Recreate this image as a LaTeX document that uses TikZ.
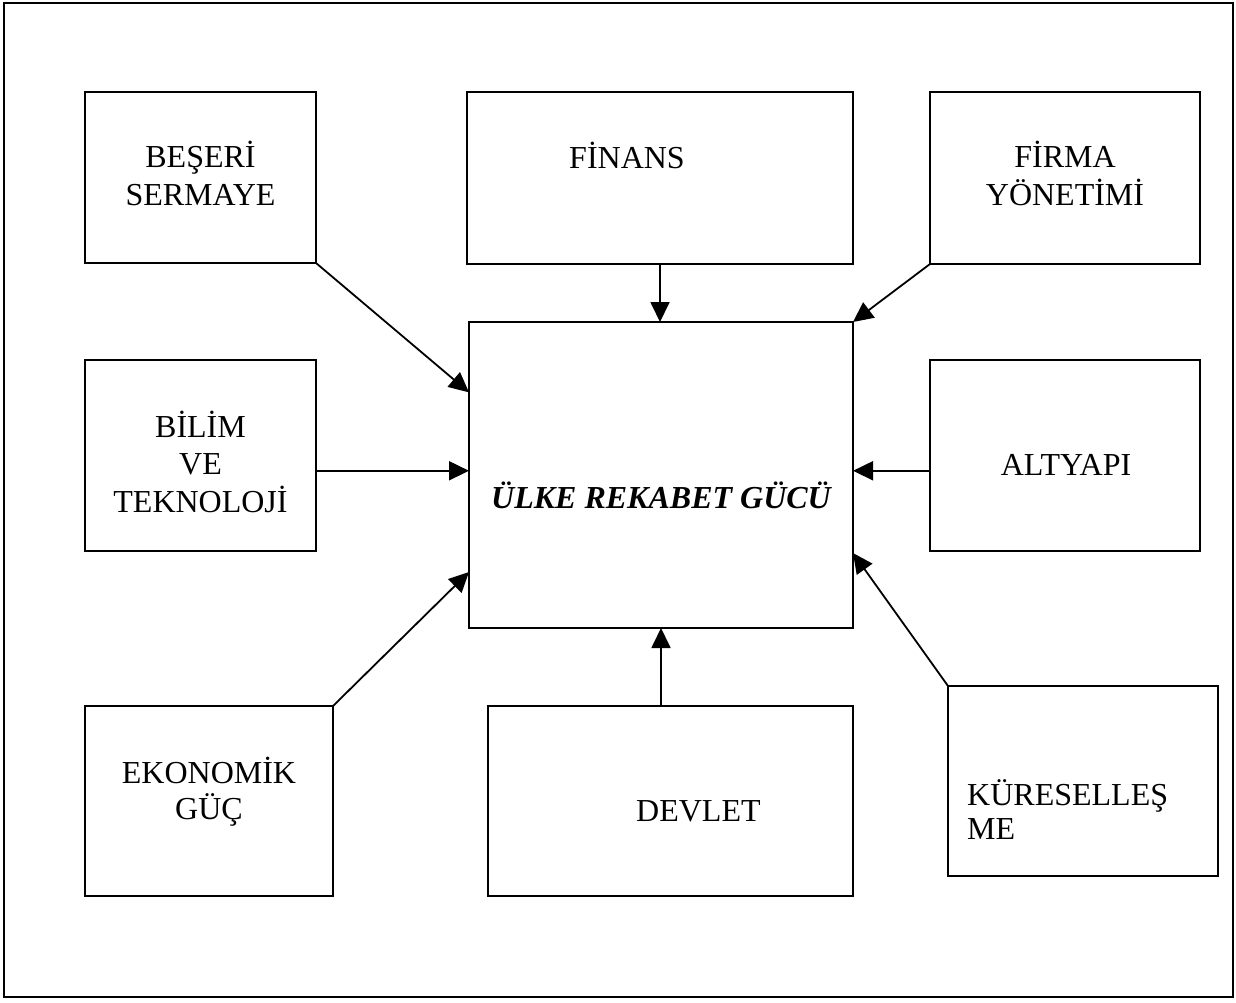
\documentclass[tikz,border=0pt]{standalone}
\usepackage{fontspec}
\setmainfont{Liberation Serif}
\usetikzlibrary{arrows.meta,calc}
\begin{document}
\begin{tikzpicture}[x=1pt,y=-1pt,
  box/.style={draw,line width=1.8pt,inner sep=0pt,outer sep=0pt},
  lbl/.style={inner sep=0pt,anchor=base,font=\fontsize{32}{37}\selectfont},
  lblw/.style={lbl,anchor=base west},
  arr/.style={line width=1.8pt,-{Triangle[length=20pt,width=19pt]}}]
\useasboundingbox (0,0) rectangle (1236,1003);
\draw[line width=2pt] (4,3) rectangle (1233,997);
% boxes
\node[box,minimum width=231pt,minimum height=171pt] (beseri) at (200.5,177.5) {};
\node[box,minimum width=386pt,minimum height=172pt] (finans) at (660,178) {};
\node[box,minimum width=270pt,minimum height=172pt] (firma) at (1065,178) {};
\node[box,minimum width=231pt,minimum height=191pt] (bilim) at (200.5,455.5) {};
\node[box,minimum width=384pt,minimum height=306pt] (c) at (661,475) {};
\node[box,minimum width=270pt,minimum height=191pt] (altyapi) at (1065,455.5) {};
\node[box,minimum width=248pt,minimum height=190pt] (ekonomik) at (209,801) {};
\node[box,minimum width=365pt,minimum height=190pt] (devlet) at (670.5,801) {};
\node[box,minimum width=270pt,minimum height=190pt] (kure) at (1083,781) {};
% texts
\node[lbl] (t1a) at (200.5,168) {BEŞERİ};
\node[lbl] (t1b) at (200.5,206) {SERMAYE};
\node[lblw] (t2) at (569,169) {FİNANS};
\node[lbl] (t3a) at (1065,168) {FİRMA};
\node[lbl] (t3b) at (1065,206) {YÖNETİMİ};
\node[lbl] (t4a) at (200.5,437) {BİLİM};
\node[lbl] (t4b) at (200.5,474.5) {VE};
\node[lbl] (t4c) at (200.5,512) {TEKNOLOJİ};
\node[lbl,font=\fontsize{32}{37}\selectfont\bfseries\itshape] (t5) at (661,508) {ÜLKE REKABET GÜCÜ};
\node[lbl] (t6) at (1066,475) {ALTYAPI};
\node[lbl] (t7a) at (209,783) {EKONOMİK};
\node[lbl] (t7b) at (209,819) {GÜÇ};
\node[lblw] (t8) at (636,821) {DEVLET};
\node[lblw] (t9a) at (967,805) {KÜRESELLEŞ};
\node[lblw] (t9b) at (967,839) {ME};
% connectors
\coordinate (bl) at ($(bilim.north east)!0.58!(bilim.south east)$);
\coordinate (al) at ($(altyapi.north west)!0.58!(altyapi.south west)$);
\draw[arr] (beseri.south east) -- ($(c.north west)!0.23!(c.south west)$);
\draw[arr] (finans.south) -- (finans.south |- c.north);
\draw[arr] (firma.south west) -- (c.north east);
\draw[arr] (bl) -- (bl -| c.west);
\draw[arr] (al) -- (al -| c.east);
\draw[arr] (ekonomik.north east) -- ($(c.north west)!0.817!(c.south west)$);
\draw[arr] (c.south |- devlet.north) -- (c.south);
\draw[arr] (kure.north west) -- ($(c.north east)!0.755!(c.south east)$);
\end{tikzpicture}
\end{document}
